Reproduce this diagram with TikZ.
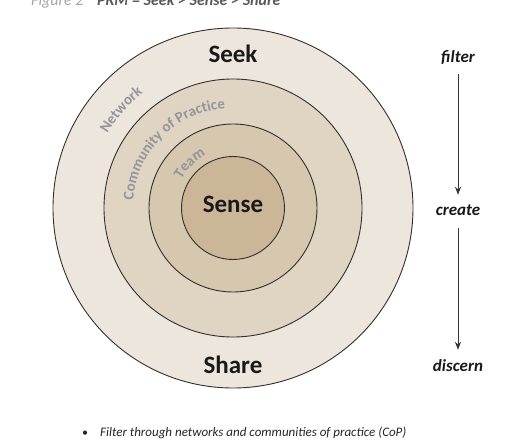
\documentclass[tikz,border=0pt]{standalone}
\usepackage{fontspec}
\setmainfont{Carlito}
\usepackage{tikz}
\usetikzlibrary{shapes, arrows.meta, decorations.text}
\definecolor{ringa}{RGB}{237, 230, 220}
\definecolor{ringb}{RGB}{224, 213, 195}
\definecolor{ringc}{RGB}{214, 199, 175}
\definecolor{core}{RGB}{203, 182, 151}
\definecolor{edge}{RGB}{50, 47, 44}
\definecolor{soft}{RGB}{148, 148, 154}
\newcommand{\curvefont}{\fontsize{15}{15}\selectfont\bfseries}

\begin{document}
\begin{tikzpicture}[
   x=1pt, y=1pt,
   ring/.style={circle, draw=edge, line width=0.9, inner sep=0},
   stage/.style={font=\fontsize{25}{25}\selectfont\bfseries, text=black!90,
                 inner sep=0},
   verb/.style={font=\fontsize{17}{17}\selectfont\bfseries\itshape, text=black!90,
                text height=12, text depth=3, inner sep=0},
   flow/.style={->, >={Stealth[length=8pt, width=6pt]}, line width=1, draw=black!80},
   curved/.style={decorate, decoration={text along path, text align=center,
                  text color=soft, text={#1}}}
  ]

  % Ring Radius
  \pgfmathsetmacro{\R}{180}

  \useasboundingbox (-233, -234) rectangle (298, 208);

  \foreach \r/\c/\n in {\R/ringa/net, 129/ringb/cop, 84/ringc/team, 51.5/core/self} {
    \node (\n) at (0, 0) [ring, fill=\c, minimum size={2*\r*1pt}] {};
  }

  \path[curved={|\curvefont|Network}] (178.7:146pt) arc[start angle=178.7, end angle=98.7, radius=146pt];
  \path[curved={|\curvefont|Community of Practice}] (190:100pt) arc[start angle=190, end angle=80, radius=100pt];
  \path[curved={|\curvefont|Team}] (164:59pt) arc[start angle=164, end angle=104, radius=59pt];

  \node (seek)  at (0, 145)  [stage, anchor=base] {Seek};
  \node (sense) at (0, -5)   [stage, anchor=base] {Sense};
  \node (share) at (0, -165) [stage, anchor=base] {Share};

  \node (filter)  at (225, 145)  [verb, anchor=base] {filter};
  \node (create)  at (225, -8)   [verb, anchor=base] {create};
  \node (discern) at (225, -163) [verb, anchor=base] {discern};

  \draw[flow, shorten <=8pt, shorten >=9pt] (filter) -- (create);
  \draw[flow, shorten <=9pt, shorten >=9pt] (create) -- (discern);

  \node (fig) at (-202, 202) [anchor=base west, inner sep=0, text=black!35,
        font=\fontsize{16}{16}\selectfont\itshape] {Figure 2};
  \node (title) at (-136, 202) [anchor=base west, inner sep=0, text=black!65,
        font=\fontsize{16}{16}\selectfont\bfseries\itshape] {PKM = Seek > Sense > Share};

  \node (dot) at (-148, -228) [anchor=base, inner sep=0, text=black!85,
        font=\fontsize{12}{12}\selectfont] {\textbullet};
  \node (note) at (-133, -228) [anchor=base west, inner sep=0, text=black!85,
        font=\fontsize{13}{13}\selectfont\itshape] {Filter through networks and communities of practice (CoP)};

\end{tikzpicture}
\end{document}
